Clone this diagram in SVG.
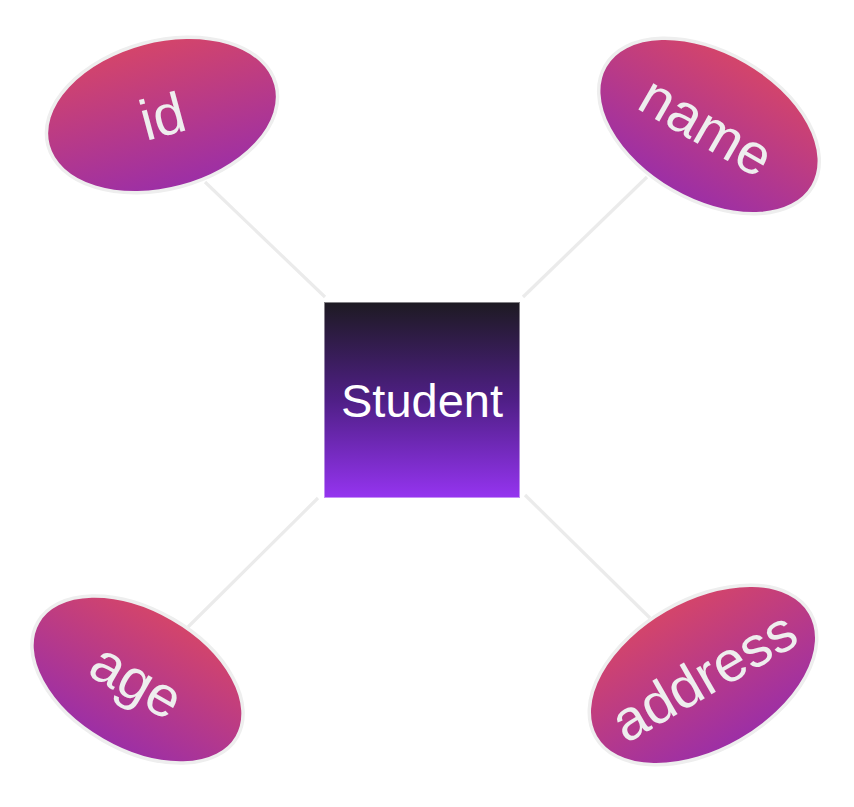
<svg xmlns="http://www.w3.org/2000/svg" width="854" height="807" viewBox="0 0 854 807">
  <defs>
    <linearGradient id="attrGrad" x1="0" y1="0" x2="0" y2="1">
      <stop offset="0" stop-color="#d4456a"/>
      <stop offset="1" stop-color="#9c2fa6"/>
    </linearGradient>
    <linearGradient id="entGrad" x1="0" y1="0" x2="0" y2="1">
      <stop offset="0" stop-color="#1d1a22"/>
      <stop offset="0.5" stop-color="#4f1f86"/>
      <stop offset="1" stop-color="#9534f0"/>
    </linearGradient>
    <style>
      .attr { fill: url(#attrGrad); stroke: #eeeeee; stroke-width: 3.5; }
      .attr-text { fill: #eeeeee; font-family: "Liberation Sans", Arial, sans-serif; font-size: 57px; text-anchor: middle; dominant-baseline: central; }
      .ent { fill: url(#entGrad); stroke: #ffffff; stroke-opacity: 0.45; stroke-width: 2; }
      .ent-text { fill: #ffffff; font-family: "Liberation Sans", Arial, sans-serif; font-size: 47px; text-anchor: middle; }
      .conn { stroke: #ebebeb; stroke-width: 3.2; fill: none; }
    </style>
  </defs>
  <rect width="854" height="807" fill="#ffffff"/>
  <g id="connectors">
    <line class="conn" x1="205" y1="182" x2="325" y2="297"/>
    <line class="conn" x1="647" y1="177" x2="523" y2="297"/>
    <line class="conn" x1="188" y1="627" x2="318" y2="498"/>
    <line class="conn" x1="650" y1="618" x2="525" y2="495"/>
  </g>
  <g id="student">
    <rect class="ent" x="324" y="302" width="196" height="196"/>
    <text class="ent-text" x="422" y="417">Student</text>
  </g>
  <g id="attr-id" transform="translate(162 115) rotate(-15)">
    <ellipse class="attr" cx="0" cy="0" rx="118" ry="74"/>
    <text class="attr-text" x="0" y="1">id</text>
  </g>
  <g id="attr-name" transform="translate(709 126) rotate(30)">
    <ellipse class="attr" cx="0" cy="0" rx="120" ry="74"/>
    <text class="attr-text" x="-2" y="1">name</text>
  </g>
  <g id="attr-age" transform="translate(137.5 679.5) rotate(30)">
    <ellipse class="attr" cx="0" cy="0" rx="115" ry="70"/>
    <text class="attr-text" x="0" y="1">age</text>
  </g>
  <g id="attr-address" transform="translate(703 675) rotate(-30)">
    <ellipse class="attr" cx="0" cy="0" rx="124" ry="75"/>
    <text class="attr-text" x="0" y="1">address</text>
  </g>
</svg>
